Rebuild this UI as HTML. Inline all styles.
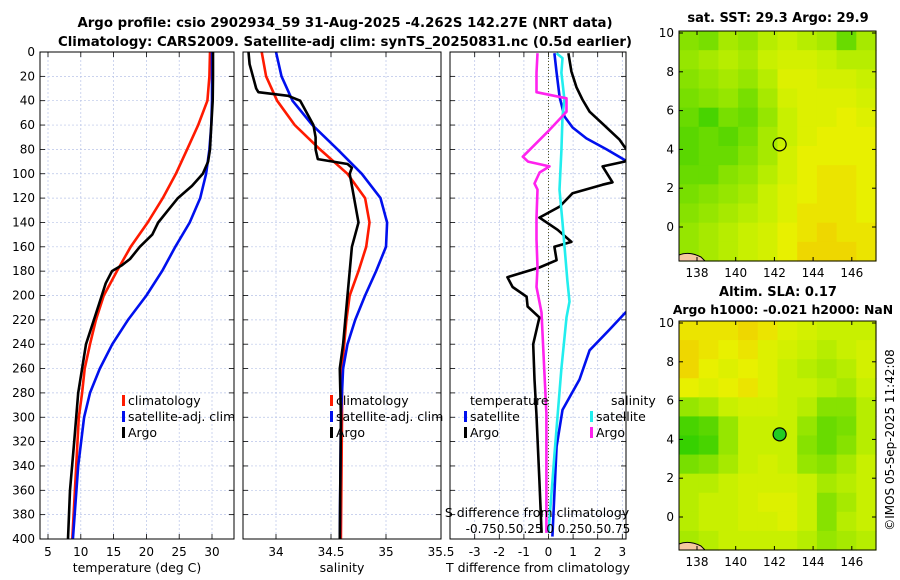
<!DOCTYPE html>
<html><head><meta charset="utf-8"><style>
body{margin:0;background:#fff;}
svg{display:block;font-family:"DejaVu Sans","Liberation Sans",sans-serif;}
</style></head><body>
<svg id="c" width="900" height="580" viewBox="0 0 900 580">
<defs>
<clipPath id="c1"><rect x="40" y="52" width="194" height="487"/></clipPath>
<clipPath id="c2"><rect x="243" y="52" width="198" height="487"/></clipPath>
<clipPath id="c3"><rect x="450" y="52" width="176" height="487"/></clipPath>
</defs>
<text x="345" y="27" text-anchor="middle" font-size="13.3" font-weight="bold">Argo profile: csio 2902934_59 31-Aug-2025 -4.262S 142.27E (NRT data)</text>
<text x="345" y="46" text-anchor="middle" font-size="13.3" font-weight="bold">Climatology: CARS2009. Satellite-adj clim: synTS_20250831.nc (0.5d earlier)</text>
<text x="778" y="22" text-anchor="middle" font-size="13" font-weight="bold">sat. SST: 29.3 Argo: 29.9</text>
<text x="778" y="296" text-anchor="middle" font-size="13" font-weight="bold">Altim. SLA: 0.17</text>
<text x="783" y="314" text-anchor="middle" font-size="12.4" font-weight="bold">Argo h1000: -0.021 h2000: NaN</text>
<text transform="translate(894,440) rotate(-90)" text-anchor="middle" font-size="12">©IMOS 05-Sep-2025 11:42:08</text>
<g id="g"></g>
</svg>
<script>
// pressure levels and profile values
const climP=[0,20,40,60,80,100,120,140,160,180,200,220,240,260,280,300,340,400];
const climT=[29.7,29.6,29.3,27.9,26.2,24.5,22.5,20.2,17.6,15.5,13.5,12.3,11.4,10.6,10.2,9.7,9.3,8.7];
const satT=[30.0,30.0,30.0,29.9,29.6,29.1,28.2,26.6,24.4,22.4,20.0,17.2,14.8,12.9,11.4,10.5,9.6,8.8];
const argoTP=[0,20,40,50,60,80,90,100,110,120,130,140,150,160,170,175,180,190,200,220,240,260,280,320,360,400];
const argoT=[30.15,30.15,30.1,30.0,29.9,29.7,29.4,28.6,26.95,24.8,23.3,21.8,20.9,19.0,17.5,16.3,14.75,13.8,13.2,12.0,10.8,10.2,9.6,9.0,8.35,8.05];
const salP=[0,20,40,60,80,100,120,140,160,180,200,220,240,260,300,400];
const climS=[33.87,33.91,34.01,34.17,34.40,34.65,34.81,34.85,34.82,34.75,34.67,34.64,34.62,34.60,34.60,34.59];
const satS=[34.00,34.05,34.15,34.33,34.56,34.78,34.95,35.01,35.00,34.91,34.81,34.72,34.65,34.61,34.59,34.58];
const argoSP=[0,10,20,30,33,36,40,50,60,70,80,88,92,95,100,110,130,140,160,180,200,220,240,260,300,400];
const argoS=[33.75,33.76,33.79,33.82,33.84,34.11,34.22,34.28,34.34,34.36,34.36,34.38,34.65,34.69,34.67,34.69,34.73,34.75,34.69,34.67,34.65,34.63,34.61,34.58,34.59,34.58];
// differences from climatology
const dTargoP=[1,16,29,39,49,62,72,86,90,94,107,109,116,127,136,146,156,160,171,177,185,193,201,209,218,240,269,297,352,395];
const dTargo=[0.81,0.93,1.14,1.38,1.67,2.36,2.89,3.37,3.09,2.2,2.6,2.2,0.98,0.45,-0.37,0.37,0.93,0.24,0.33,-0.37,-1.67,-1.46,-0.89,-0.85,-0.37,-0.62,-0.57,-0.49,-0.37,-0.28];
const dTsatP=[1,17,37,53,62,71,80,91,99,120,140,180,200,214,228,245,269,294,324,398];
const dTsat=[0.24,0.33,0.45,0.65,0.98,1.54,2.36,3.29,4.02,5.5,6.4,6.9,5.0,3.13,2.48,1.67,1.26,0.57,0.33,0.16];
const dSargoP=[1,17,33,38,49,64,86,90,94,99,108,113,136,154,177,193,214,297,395];
const dSargo=[-0.107,-0.117,-0.117,0.175,0.175,0.01,-0.25,-0.2,0.01,-0.087,-0.136,-0.107,-0.117,-0.117,-0.107,-0.117,-0.068,-0.02,-0.02];
const dSsatP=[1,5,17,39,53,81,113,140,188,205,218,260,330,395];
const dSsat=[0.078,0.136,0.126,0.155,0.136,0.126,0.107,0.136,0.184,0.204,0.175,0.126,0.058,0.0];
// tick labels
const pTicks=[0,20,40,60,80,100,120,140,160,180,200,220,240,260,280,300,320,340,360,380,400];
const tTicks=[5,10,15,20,25,30];
const sTicks=[34,34.5,35,35.5];
const dTTicks=[-3,-2,-1,0,1,2,3];
const lonTicks=[138,140,142,144,146];
const latTicks=[10,8,6,4,2,0];
// map grids (rows lat north->south, cols lon west->east), normalised colour value
const sstGrid=[
[.4,.35,.5,.45,.55,.6,.55,.5,.3,.5],
[.45,.5,.55,.5,.6,.65,.65,.6,.55,.55],
[.4,.45,.5,.45,.55,.7,.7,.65,.65,.6],
[.35,.4,.45,.35,.5,.65,.7,.7,.7,.65],
[.3,.2,.35,.3,.45,.6,.7,.7,.75,.7],
[.25,.3,.25,.35,.5,.6,.7,.75,.75,.75],
[.25,.3,.3,.4,.5,.65,.75,.75,.75,.75],
[.3,.3,.4,.45,.55,.65,.75,.8,.8,.75],
[.35,.4,.45,.5,.6,.7,.75,.8,.8,.75],
[.4,.45,.5,.55,.6,.7,.8,.8,.8,.75],
[.45,.5,.55,.6,.65,.75,.8,.85,.8,.8],
[.45,.5,.55,.6,.65,.75,.85,.85,.85,.8]];
const slaGrid=[
[.8,.8,.8,.85,.8,.7,.65,.6,.6,.6],
[.85,.8,.75,.8,.7,.65,.6,.55,.6,.65],
[.85,.75,.7,.75,.7,.6,.55,.5,.55,.65],
[.75,.7,.75,.8,.7,.6,.6,.55,.5,.6],
[.45,.5,.6,.65,.65,.6,.55,.4,.4,.55],
[.2,.25,.45,.6,.6,.6,.45,.3,.35,.55],
[.15,.2,.45,.6,.6,.6,.4,.3,.4,.55],
[.35,.4,.5,.6,.65,.6,.45,.4,.5,.6],
[.55,.55,.6,.65,.65,.65,.6,.5,.55,.6],
[.55,.6,.6,.65,.7,.7,.6,.4,.5,.6],
[.55,.6,.6,.65,.65,.7,.6,.4,.55,.6],
[.5,.55,.6,.6,.6,.6,.55,.45,.5,.55]];
const argoLon=142.27, argoLat=4.26;

const NS="http://www.w3.org/2000/svg";
const G=document.getElementById('g');
function mk(tag,attrs,parent){const e=document.createElementNS(NS,tag);for(const k in attrs)e.setAttribute(k,attrs[k]);(parent||G).appendChild(e);return e;}
const yP=p=>52+p*1.2175;
const xT=t=>48+(t-5)*6.56;
const xS=s=>276+(s-34)*110;
const xD=d=>548.5+d*24.6;
const xDS=d=>548.5+d*102.7;

function panel(x0,w,name,xticks,xf,xlab,clip){
  const g=mk('g',{});
  
  
  mk('rect',{x:x0,y:52,width:w,height:487,fill:'#fff'},g);
  for(const p of pTicks){mk('line',{x1:x0,x2:x0+w,y1:yP(p),y2:yP(p),stroke:'#b8c4e8','stroke-width':0.7,'stroke-dasharray':'2,2'},g);}
  for(const t of xticks){const x=xf(t);mk('line',{x1:x,x2:x,y1:52,y2:539,stroke:'#b8c4e8','stroke-width':0.7,'stroke-dasharray':'2,2'},g);
    mk('line',{x1:x,x2:x,y1:539,y2:534,stroke:'#000','stroke-width':0.8},g);
    mk('line',{x1:x,x2:x,y1:52,y2:57,stroke:'#000','stroke-width':0.8},g);
    const tx=mk('text',{x:x,y:556,'text-anchor':'middle','font-size':12},g);tx.textContent=String(t);}
  for(const p of pTicks){mk('line',{x1:x0,x2:x0+5,y1:yP(p),y2:yP(p),stroke:'#000','stroke-width':0.8},g);mk('line',{x1:x0+w,x2:x0+w-5,y1:yP(p),y2:yP(p),stroke:'#000','stroke-width':0.8},g);}
  const lb=mk('text',{x:x0+w/2,y:572,'text-anchor':'middle','font-size':12.5},g);lb.textContent=xlab;
  
  
  return g;
}
function line(xs,ps,xf,color,clip,name,w){
  const d=xs.map((v,i)=>(i?'L':'M')+xf(v).toFixed(1)+','+yP(ps[i]).toFixed(1)).join('');
  const e=mk('path',{d:d,fill:'none',stroke:color,'stroke-width':w||2.6,'stroke-linejoin':'round','clip-path':'url(#'+clip+')'});
  
  
}
function frame(x0,w){mk('rect',{x:x0,y:52,width:w,height:487,fill:'none',stroke:'#000','stroke-width':1});}
function legItem(x,y,color,label,name){
  mk('rect',{x:x,y:y-10,width:3,height:11,fill:color});
  const t=mk('text',{x:x+6,y:y,'font-size':12.5});t.textContent=label;
  
  
}

// Panel 1 temperature
panel(40,194,'temperature-panel',tTicks,xT,'temperature (deg C)','c1');
pTicks.forEach(p=>{const t=mk('text',{x:35,y:yP(p)+4,'text-anchor':'end','font-size':12});t.textContent=String(p);
  
  });
line(climT,climP,xT,'#ff1a00','c1','temp-climatology-line');
line(satT,climP,xT,'#0010ee','c1','temp-satellite-line');
line(argoT,argoTP,xT,'#000','c1','temp-argo-line');
frame(40,194);
legItem(122,405,'#ff1a00','climatology','legend-climatology');
legItem(122,421,'#0010ee','satellite-adj. clim','legend-satellite');
legItem(122,437,'#000','Argo','legend-argo');

// Panel 2 salinity
panel(243,198,'salinity-panel',sTicks,xS,'salinity','c2');
line(climS,salP,xS,'#ff1a00','c2','sal-climatology-line');
line(satS,salP,xS,'#0010ee','c2','sal-satellite-line');
line(argoS,argoSP,xS,'#000','c2','sal-argo-line');
frame(243,198);
legItem(330,405,'#ff1a00','climatology','legend-sal-climatology');
legItem(330,421,'#0010ee','satellite-adj. clim','legend-sal-satellite');
legItem(330,437,'#000','Argo','legend-sal-argo');

// Panel 3 differences
panel(450,176,'difference-panel',dTTicks,xD,'T difference from climatology','c3');
mk('line',{x1:548.5,x2:548.5,y1:52,y2:539,stroke:'#555522','stroke-width':1,'stroke-dasharray':'1,2'});
line(dTsat,dTsatP,xD,'#0010ee','c3','dT-satellite-line');
line(dTargo,dTargoP,xD,'#000','c3','dT-argo-line');
line(dSsat,dSsatP,xDS,'#22eeee','c3','dS-satellite-line');
line(dSargo,dSargoP,xDS,'#ff22ee','c3','dS-argo-line');
frame(450,176);
{const t=mk('text',{x:470,y:405,'font-size':12.5});t.textContent='temperature';
 
 const s=mk('text',{x:611,y:405,'font-size':12.5});s.textContent='salinity';
 }
legItem(464,421,'#0010ee','satellite','legend-dT-satellite');
legItem(464,437,'#000','Argo','legend-dT-argo');
legItem(590,421,'#22eeee','satellite','legend-dS-satellite');
legItem(590,437,'#ff22ee','Argo','legend-dS-argo');
{const t=mk('text',{x:537,y:517,'text-anchor':'middle','font-size':12.5});t.textContent='S difference from climatology';
 
 const u=mk('text',{x:548,y:533,'text-anchor':'middle','font-size':12});u.textContent='-0.750.50.25 0  0.250.50.75';
 }

// Maps
function cmap(v){
  const st=[[0,[0,200,0]],[0.25,[90,215,0]],[0.45,[150,230,0]],[0.6,[200,240,0]],[0.75,[232,240,0]],[0.88,[240,208,0]],[1,[240,176,48]]];
  for(let i=1;i<st.length;i++){if(v<=st[i][0]){const a=st[i-1],b=st[i],f=(v-a[0])/(b[0]-a[0]);
    return 'rgb('+a[1].map((c,j)=>Math.round(c+(b[1][j]-c)*f)).join(',')+')';}}
  return 'rgb(240,176,48)';
}
function map(y0,y1,lat10,lat0,grid,name,filled){
  const x0=679,x1=876;
  const g=mk('g',{});
  
  
  const lonX=l=>697+(l-138)*19.35;
  const latY=l=>lat0+(l)*(lat10-lat0)/10;
  const R=grid.length,C=grid[0].length,cw=(x1-x0)/C,ch=(y1-y0)/R;
  grid.forEach((row,r)=>row.forEach((v,c)=>{
    const cell=mk('rect',{x:(x0+c*cw).toFixed(2),y:(y0+r*ch).toFixed(2),width:(cw+0.6).toFixed(2),height:(ch+0.6).toFixed(2),fill:cmap(v)},g);
    
    
  }));
  mk('path',{d:`M${x0},${y1} L${x0},${y1-6} Q${x0+10},${y1-10} ${x0+22},${y1-4} L${x0+26},${y1} Z`,fill:'#f5c8a0',stroke:'#000','stroke-width':1},g);
  mk('rect',{x:x0,y:y0,width:x1-x0,height:y1-y0,fill:'none',stroke:'#000','stroke-width':1},g);
  lonTicks.forEach(l=>{const x=lonX(l);mk('line',{x1:x,x2:x,y1:y1,y2:y1-4,stroke:'#000'},g);mk('line',{x1:x,x2:x,y1:y0,y2:y0+4,stroke:'#000'},g);
    const t=mk('text',{x:x,y:y1+16,'text-anchor':'middle','font-size':12},g);t.textContent=String(l);});
  latTicks.forEach(l=>{const y=latY(l);mk('line',{x1:x0,x2:x0+4,y1:y,y2:y,stroke:'#000'},g);mk('line',{x1:x1,x2:x1-4,y1:y,y2:y,stroke:'#000'},g);
    const t=mk('text',{x:x0-5,y:y+4,'text-anchor':'end','font-size':12},g);t.textContent=String(l);});
  const m=mk('circle',{cx:lonX(argoLon),cy:latY(argoLat),r:6.5,fill:filled?'#22cc22':'none',stroke:'#000','stroke-width':1.2},g);
  
  
}
map(31,261,33,227,sstGrid,'sst-map',false);
map(321,550,323,517,slaGrid,'sla-map',true);
</script>
</body></html>
